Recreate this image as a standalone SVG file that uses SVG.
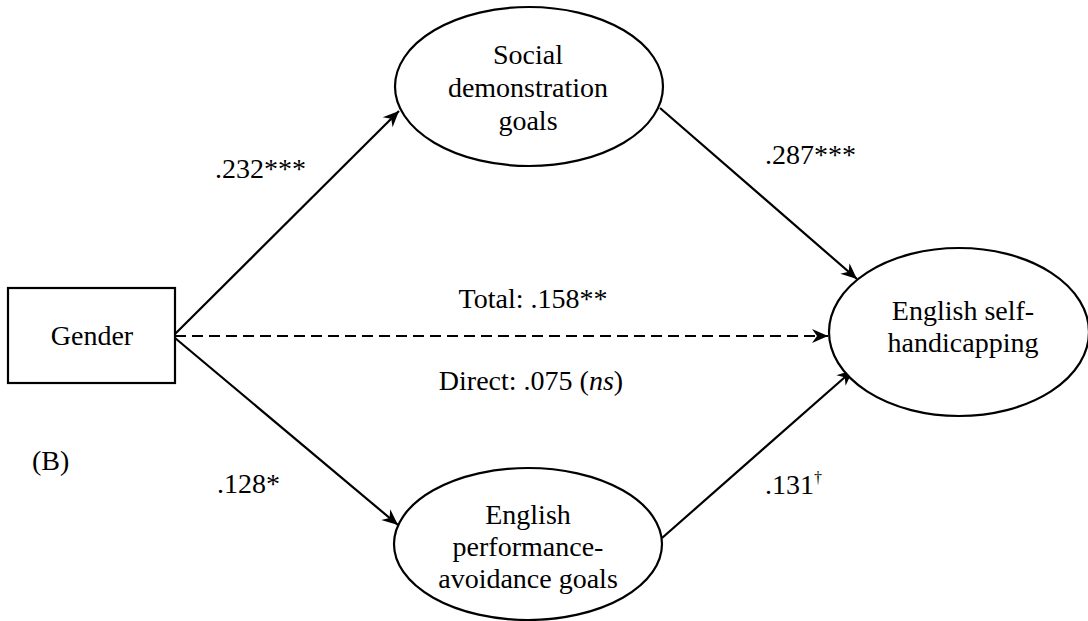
<svg xmlns="http://www.w3.org/2000/svg" width="1088" height="621" viewBox="0 0 1088 621">
<style>
.t{font-family:"Liberation Serif","Times New Roman",serif;font-size:28px;fill:#000}
.n{fill:#fff;stroke:#000;stroke-width:2.2}
.c{stroke:#000;stroke-width:2.2;fill:none}
.d{stroke-dasharray:11 6}
</style>
<defs>
<marker id="ah" viewBox="-17 -8 18 16" refX="0" refY="0" markerWidth="18" markerHeight="16" markerUnits="userSpaceOnUse" orient="auto">
<path d="M0,0 L-16,-7 L-11,0 L-16,7 Z" fill="#000"/>
</marker>
</defs>
<rect width="1088" height="621" fill="#fff"/>
<g id="connectors">
<line class="c" x1="175" y1="334" x2="399" y2="111" marker-end="url(#ah)"/>
<line class="c" x1="175" y1="338" x2="398" y2="525" marker-end="url(#ah)"/>
<line class="c d" x1="175" y1="336" x2="828" y2="336" marker-end="url(#ah)"/>
<line class="c" x1="660" y1="108" x2="857" y2="279" marker-end="url(#ah)"/>
<line class="c" x1="662" y1="538" x2="853" y2="370" marker-end="url(#ah)"/>
</g>
<g id="gender">
<rect class="n" x="8" y="288" width="167" height="95"/>
<text class="t" x="92" y="345" text-anchor="middle">Gender</text>
</g>
<g id="social">
<ellipse class="n" cx="529" cy="86.5" rx="134" ry="79.5"/>
<text class="t" text-anchor="middle"><tspan x="528" y="64">Social</tspan><tspan x="528" y="97">demonstration</tspan><tspan x="528" y="130">goals</tspan></text>
</g>
<g id="perfavoid">
<ellipse class="n" cx="528" cy="544" rx="134" ry="76"/>
<text class="t" text-anchor="middle"><tspan x="528" y="524">English</tspan><tspan x="528" y="556">performance-</tspan><tspan x="528" y="588">avoidance goals</tspan></text>
</g>
<g id="selfhandicap">
<ellipse class="n" cx="959" cy="332" rx="130" ry="84"/>
<text class="t" text-anchor="middle"><tspan x="963" y="320">English self-</tspan><tspan x="963" y="352">handicapping</tspan></text>
</g>
<g id="labels">
<text class="t" x="215" y="178">.232***</text>
<text class="t" x="765" y="164">.287***</text>
<text class="t" x="533" y="308" text-anchor="middle">Total: .158**</text>
<text class="t" x="531" y="390" text-anchor="middle">Direct: .075 (<tspan font-style="italic">ns</tspan>)</text>
<text class="t" x="32" y="470">(B)</text>
<text class="t" x="217" y="493">.128*</text>
<text class="t" x="765" y="494">.131<tspan font-size="16" dy="-11">†</tspan></text>
</g>
</svg>
